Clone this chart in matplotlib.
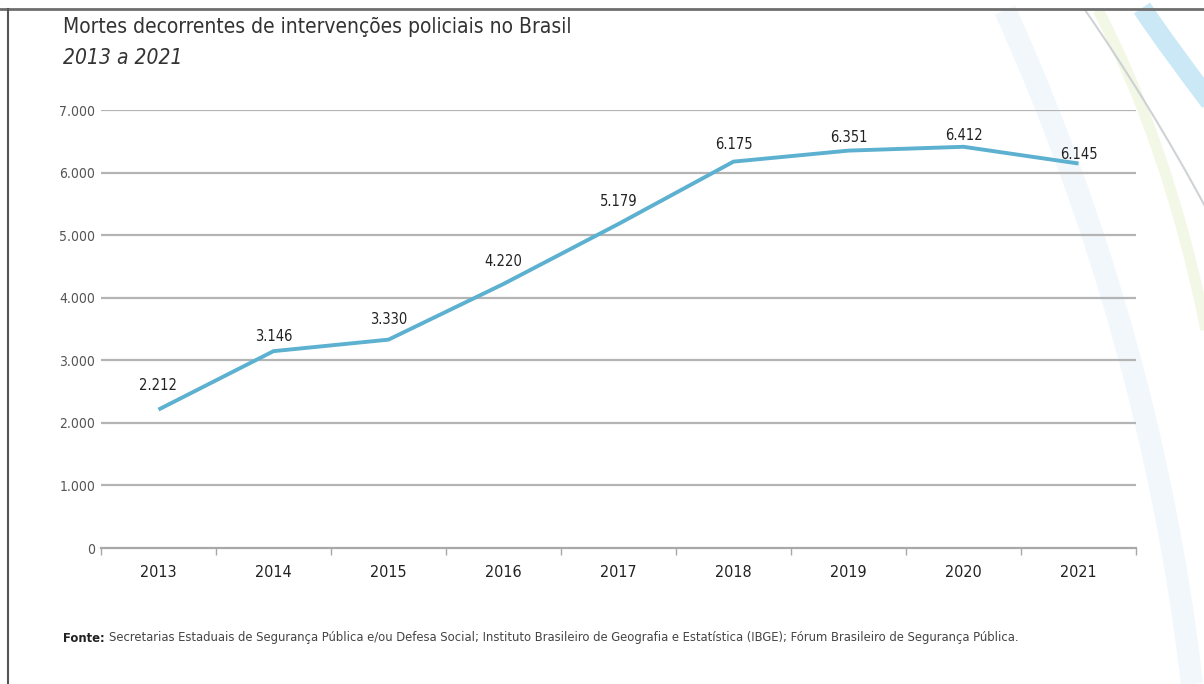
import matplotlib.pyplot as plt
from matplotlib.path import Path
from matplotlib.patches import PathPatch
from matplotlib import font_manager
from matplotlib.font_manager import FontProperties

years = ["2013", "2014", "2015", "2016", "2017", "2018", "2019", "2020", "2021"]
deaths = [2212, 3146, 3330, 4220, 5179, 6175, 6351, 6412, 6145]
y_ticks = [0, 1000, 2000, 3000, 4000, 5000, 6000, 7000]

# label offsets in points (layout only)
label_dy = [12, 5, 9, 11, 11, 7, 4, 3, 1]

# try to find a condensed face, else a narrow-ish sans
cond_file = font_manager.findfont(FontProperties(family="DejaVu Sans", stretch="condensed"))
if "Condensed" in cond_file:
    FONT = dict(family="DejaVu Sans", fontstretch="condensed")
else:
    FONT = dict(family="Roboto")

def br(v):
    return f"{v:,}".replace(",", ".")

fig = plt.figure(figsize=(12.04, 6.84), dpi=100)
W, H = 1204, 684

# decorative swooshes on the right
def swoosh(pts, color, lw, alpha):
    verts = [(x / W, 1 - y / H) for x, y in pts]
    codes = [Path.MOVETO] + [Path.CURVE4] * (len(verts) - 1)
    fig.add_artist(PathPatch(Path(verts, codes), transform=fig.transFigure,
                             fill=False, edgecolor=color, lw=lw, alpha=alpha, zorder=0))

swoosh([(1142, 8), (1162, 38), (1186, 70), (1210, 102)], "#bfe3f4", 14, 0.8)
swoosh([(1098, 10), (1140, 90), (1180, 200), (1206, 330)], "#eef4dc", 8, 0.7)
swoosh([(1085, 10), (1120, 60), (1170, 140), (1208, 212)], "#c4c8cc", 1.5, 0.8)
swoosh([(1005, 10), (1100, 220), (1165, 450), (1192, 684)], "#eef6fb", 16, 0.8)

# frame lines (top rule and left border)
fig.add_artist(plt.Line2D([0, 1], [1 - 9 / H, 1 - 9 / H], transform=fig.transFigure,
                          color="#6e6e6e", lw=2))
fig.add_artist(plt.Line2D([8 / W, 8 / W], [0, 1 - 9 / H], transform=fig.transFigure,
                          color="#555555", lw=1.5))

ax = fig.add_axes([101 / W, (H - 548) / H, (1136 - 101) / W, (548 - 110) / H])
ax.set_facecolor("none")
x = [i + 0.5 for i in range(len(years))]

ax.set_xlim(0, len(years))
ax.set_ylim(0, 7000)
for v in y_ticks[1:]:
    ax.axhline(v, color="#b4b4b4", lw=1.6, zorder=1)

ax.plot(x, deaths, color="#5cb0d0", lw=2.8, zorder=3, solid_capstyle="butt")

for xi, v, dy in zip(x, deaths, label_dy):
    ax.annotate(br(v), (xi, v), xytext=(0, dy), textcoords="offset points",
                ha="center", va="bottom", fontsize=10.5, color="#222222", **FONT)

for s in ["top", "right", "left"]:
    ax.spines[s].set_visible(False)
ax.spines["bottom"].set_color("#a8a8a8")
ax.spines["bottom"].set_linewidth(1.6)

ax.set_xticks(range(len(years) + 1))
ax.set_xticklabels([])
ax.tick_params(axis="x", which="major", length=5, color="#a8a8a8", width=1)
ax.set_xticks(x, minor=True)
ax.set_xticklabels(years, minor=True, fontsize=11.5, color="#222222", **FONT)
ax.tick_params(axis="x", which="minor", length=0, pad=12)

ax.set_yticks(y_ticks)
ax.set_yticklabels([br(v) for v in y_ticks], fontsize=10, color="#555555", **FONT)
ax.tick_params(axis="y", length=0, pad=4)

fig.text(63 / W, 1 - 27 / H, "Mortes decorrentes de intervenções policiais no Brasil",
         fontsize=15, color="#333333", va="center", **FONT)
fig.text(63 / W, 1 - 58 / H, "2013 a 2021", fontsize=15, color="#333333",
         style="italic", va="center", **FONT)

fonte = fig.text(63 / W, 1 - 638 / H, "Fonte:", fontsize=9.3, color="#222222",
                 weight="bold", va="center", **FONT)
fig.canvas.draw()
bb = fonte.get_window_extent()
fig.text((bb.x1 + 4) / W, 1 - 638 / H,
         "Secretarias Estaduais de Segurança Pública e/ou Defesa Social; Instituto Brasileiro de "
         "Geografia e Estatística (IBGE); Fórum Brasileiro de Segurança Pública.",
         fontsize=9.3, color="#444444", va="center", **FONT)

fig.savefig("out.png", dpi=100)
